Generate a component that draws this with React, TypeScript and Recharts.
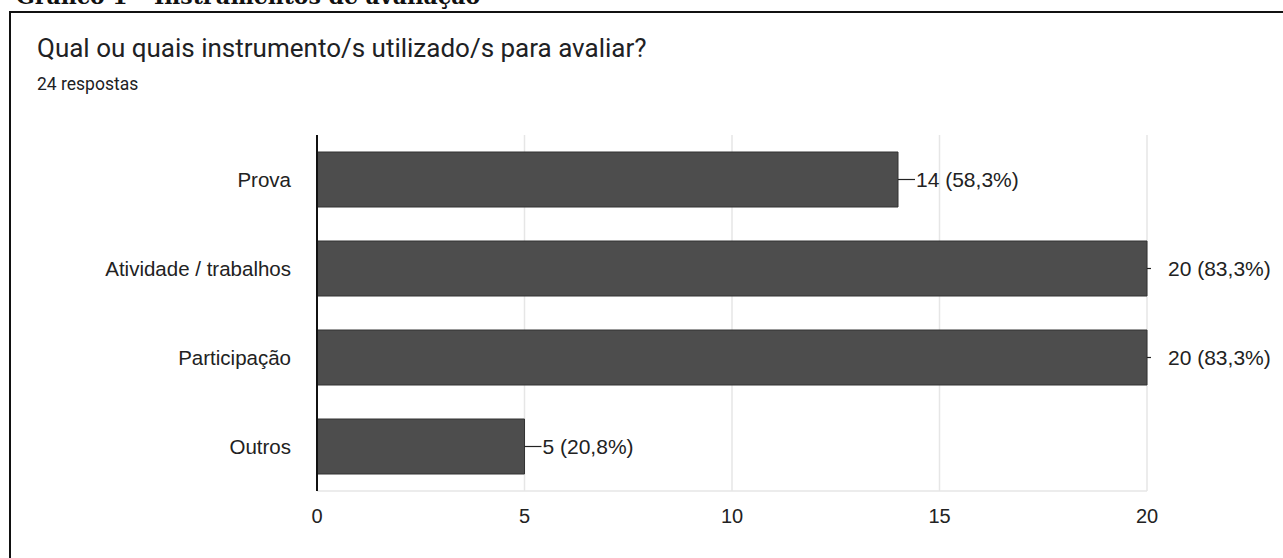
import { BarChart, Bar, XAxis, YAxis, CartesianGrid, LabelList } from "recharts";

const categories = ["Prova", "Atividade / trabalhos", "Participação", "Outros"];
const counts = [14, 20, 20, 5];
const percents = ["58,3%", "83,3%", "83,3%", "20,8%"];
const xTicks = [0, 5, 10, 15, 20];

const data = categories.map((name, i) => ({
  name,
  value: counts[i],
  label: `${counts[i]} (${percents[i]})`,
}));

const maxValue = Math.max(...counts);
const font = "'Liberation Sans', Arial, sans-serif";

function BarLabel(props: any) {
  const { x, y, width, height, index } = props;
  const end = x + width;
  const cy = y + height / 2;
  const atMax = counts[index] === maxValue;
  const lineLen = atMax ? 4 : 17;
  const textX = atMax ? end + 21 : end + 18;
  return (
    <g>
      <line x1={end} y1={cy} x2={end + lineLen} y2={cy} stroke="#222" strokeWidth={1.2} />
      <text x={textX} y={cy} dy="0.35em" fontSize={21} fill="#222" fontFamily={font}>
        {data[index].label}
      </text>
    </g>
  );
}

export default function App() {
  return (
    <div
      style={{
        position: "absolute",
        left: 0,
        top: 0,
        width: 1283,
        height: 558,
        overflow: "hidden",
        background: "#fff",
      }}
    >
      <div
        style={{
          position: "absolute",
          left: 16,
          top: -16,
          fontFamily: "'DejaVu Serif', serif",
          fontWeight: "bold",
          fontSize: 22,
          lineHeight: "24px",
          color: "#111",
          whiteSpace: "nowrap",
        }}
      >
        Gráfico 1 – Instrumentos de avaliação
      </div>
      <div
        style={{
          position: "absolute",
          left: 9,
          top: 11,
          width: 1290,
          height: 600,
          border: "2px solid #111",
          boxSizing: "border-box",
        }}
      />
      <div
        style={{
          position: "absolute",
          left: 37,
          top: 33,
          fontFamily: "Roboto, sans-serif",
          fontSize: 26,
          color: "#202124",
          whiteSpace: "nowrap",
        }}
      >
        Qual ou quais instrumento/s utilizado/s para avaliar?
      </div>
      <div
        style={{
          position: "absolute",
          left: 37,
          top: 74,
          fontFamily: "Roboto, sans-serif",
          fontSize: 17.5,
          color: "#202124",
          whiteSpace: "nowrap",
        }}
      >
        24 respostas
      </div>
      <div style={{ position: "absolute", left: 0, top: 0 }}>
        <BarChart
          width={1283}
          height={558}
          data={data}
          layout="vertical"
          margin={{ top: 135, right: 136, bottom: 37, left: 0 }}
          barSize={55}
        >
          <CartesianGrid horizontal={false} stroke="#e6e6e6" strokeWidth={1.5} />
          <XAxis
            type="number"
            domain={[0, 20]}
            ticks={xTicks}
            height={30}
            tickLine={false}
            tickMargin={12}
            axisLine={{ stroke: "#e6e6e6", strokeWidth: 1.5 }}
            tick={{ fontSize: 20, fill: "#222", fontFamily: font }}
          />
          <XAxis
            xAxisId="top"
            orientation="top"
            type="number"
            domain={[0, 20]}
            height={0}
            tick={false}
            tickLine={false}
            axisLine={{ stroke: "#ececec", strokeWidth: 1.5 }}
          />
          <YAxis
            type="category"
            dataKey="name"
            width={317}
            tickLine={false}
            tickMargin={20}
            axisLine={{ stroke: "#111", strokeWidth: 2 }}
            tick={{ fontSize: 20.5, fill: "#222", fontFamily: font }}
          />
          <Bar
            dataKey="value"
            fill="#4d4d4d"
            stroke="#333"
            strokeWidth={1}
            isAnimationActive={false}
          >
            <LabelList dataKey="label" content={BarLabel} />
          </Bar>
        </BarChart>
      </div>
    </div>
  );
}
